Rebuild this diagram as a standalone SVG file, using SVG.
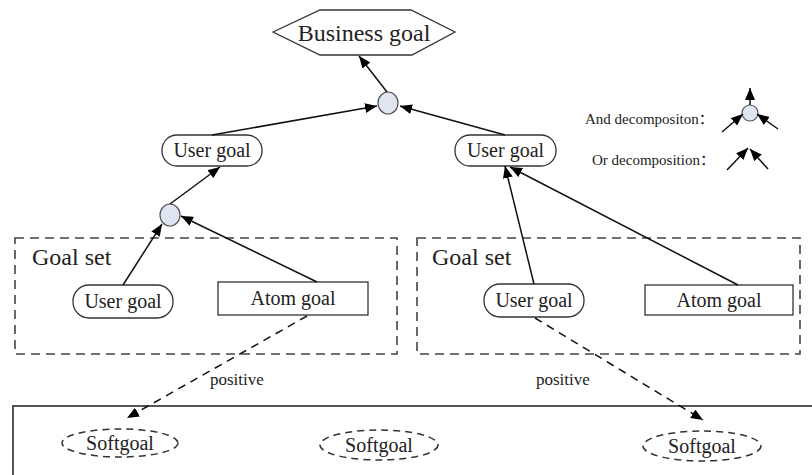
<svg xmlns="http://www.w3.org/2000/svg" width="812" height="475" viewBox="0 0 812 475">
<style>
  text { font-family: "Liberation Serif", "Times New Roman", "Noto Sans CJK SC", serif; fill: #222; }
  .lbl { font-size: 20px; text-anchor: middle; }
  .big { font-size: 24px; }
  .small { font-size: 15px; }
  .pos { font-size: 17px; }
  .node { fill: #fff; stroke: #333; stroke-width: 1.3; }
  .and { fill: #dfe6f2; stroke: #555; stroke-width: 1.2; }
  .set { fill: none; stroke: #444; stroke-width: 1.6; stroke-dasharray: 9 6; }
  .soft { fill: #fff; stroke: #333; stroke-width: 1.5; stroke-dasharray: 7 5; }
  .edge { fill: none; stroke: #111; stroke-width: 1.5; marker-end: url(#ah); }
  .dedge { fill: none; stroke: #111; stroke-width: 1.5; stroke-dasharray: 8 6; marker-end: url(#ah); }
</style>
<defs>
  <marker id="ah" markerUnits="userSpaceOnUse" markerWidth="12" markerHeight="10" refX="12" refY="5" orient="auto">
    <path d="M0,0 L12,5 L0,10 z" fill="#000"/>
  </marker>
</defs>

<g id="softgoal-area">
  <rect x="13" y="406" width="820" height="90" fill="none" stroke="#444" stroke-width="1.8"/>
</g>

<g id="goalset-left">
  <rect class="set" x="15" y="238" width="382" height="116"/>
  <text class="big" x="32" y="265">Goal set</text>
</g>
<g id="goalset-right">
  <rect class="set" x="417" y="238" width="383" height="116"/>
  <text class="big" x="432" y="265">Goal set</text>
</g>

<g id="business-goal">
  <polygon class="node" points="273,32 320,10 411,10 455,32 412,55 320,55"/>
  <text class="lbl big" x="364" y="41">Business goal</text>
</g>

<g id="and1">
  <ellipse class="and" cx="388" cy="103" rx="10" ry="11"/>
</g>
<g id="and2">
  <ellipse class="and" cx="170" cy="215" rx="10" ry="11"/>
</g>

<g id="user-goal-top-left">
  <rect class="node" x="162" y="135" width="100" height="31" rx="15"/>
  <text class="lbl" x="212" y="157">User goal</text>
</g>
<g id="user-goal-top-right">
  <rect class="node" x="455" y="135" width="101" height="31" rx="15"/>
  <text class="lbl" x="505.5" y="157">User goal</text>
</g>
<g id="user-goal-inner-left">
  <rect class="node" x="73" y="285" width="100" height="33" rx="16"/>
  <text class="lbl" x="123" y="308">User goal</text>
</g>
<g id="atom-goal-left">
  <rect class="node" x="218" y="282" width="150" height="33"/>
  <text class="lbl" x="293" y="305">Atom goal</text>
</g>
<g id="user-goal-inner-right">
  <rect class="node" x="484" y="284" width="100" height="33" rx="16"/>
  <text class="lbl" x="534" y="307">User goal</text>
</g>
<g id="atom-goal-right">
  <rect class="node" x="645" y="285" width="148" height="30"/>
  <text class="lbl" x="719" y="307">Atom goal</text>
</g>

<g id="softgoal-1">
  <ellipse class="soft" cx="120" cy="443" rx="58" ry="14"/>
  <text class="lbl" x="120" y="450">Softgoal</text>
</g>
<g id="softgoal-2">
  <ellipse class="soft" cx="379" cy="445" rx="59" ry="15"/>
  <text class="lbl" x="379" y="452">Softgoal</text>
</g>
<g id="softgoal-3">
  <ellipse class="soft" cx="702" cy="446" rx="59" ry="15"/>
  <text class="lbl" x="702" y="453">Softgoal</text>
</g>

<g id="legend">
  <text class="small" x="585" y="124">And decompositon：</text>
  <ellipse class="and" cx="750" cy="113" rx="8" ry="8"/>
  <path class="edge" d="M750,105 L750,88"/>
  <path class="edge" d="M722,132 L743,114"/>
  <path class="edge" d="M778,129 L757,114"/>
  <text class="small" x="592" y="165">Or decomposition：</text>
  <path class="edge" d="M727,170 L748,148"/>
  <path class="edge" d="M768,169 L750,149"/>
</g>

<g id="connectors">
  <path class="edge" d="M387,92 L359,56"/>
  <path class="edge" d="M212,135 L377,106"/>
  <path class="edge" d="M505,135 L400,106"/>
  <path class="edge" d="M170,204 L220,167"/>
  <path class="edge" d="M123,285 L162,224"/>
  <path class="edge" d="M317,282 L181,216"/>
  <path class="edge" d="M534,284 L505,166"/>
  <path class="edge" d="M738,285 L510,167"/>
  <path class="dedge" d="M307,316 L127,418"/>
  <path class="dedge" d="M535,318 L703,420"/>
  <text class="pos" x="210" y="385">positive</text>
  <text class="pos" x="536" y="385">positive</text>
</g>
</svg>
